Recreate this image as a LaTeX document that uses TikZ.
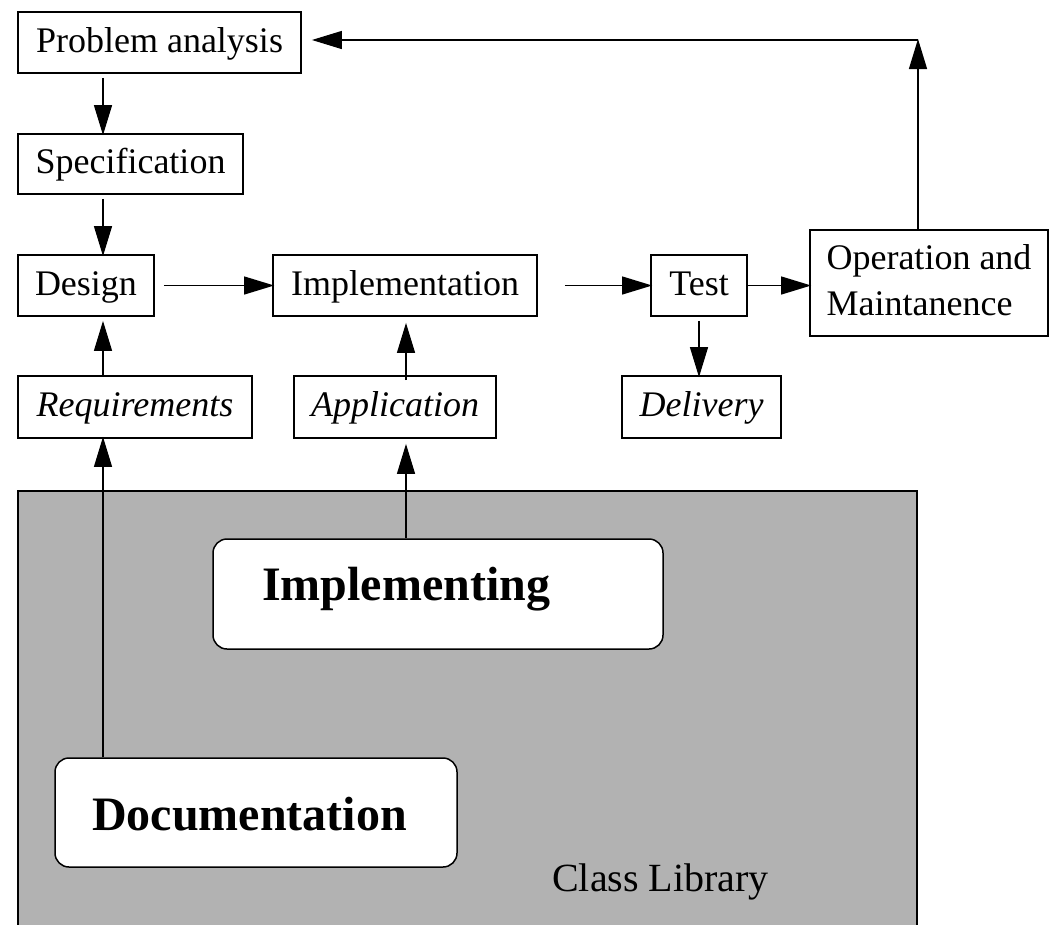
\documentclass[tikz,border=0pt]{standalone}
\usepackage{fontspec}
\setmainfont{Liberation Serif}
\usetikzlibrary{arrows.meta}
\definecolor{libgray}{RGB}{178,178,178}
\begin{document}
\begin{tikzpicture}[x=1pt,y=-1pt,
  stagebox/.style={draw, line width=1.8pt, inner sep=0pt,
    font=\fontsize{36}{46}\selectfont, text height=27pt, text depth=8pt},
  itbox/.style={stagebox, font=\fontsize{36}{46}\selectfont\itshape},
  partbox/.style={draw, fill=white, line width=1.5pt, rounded corners=14pt, inner sep=0pt},
  parttext/.style={font=\fontsize{48}{58}\selectfont\bfseries, inner sep=0pt, anchor=base west},
  arr/.style={line width=1.3pt, -{Triangle[length=30pt,width=18pt]}},
  touch/.style={shorten >=-2pt}]
\useasboundingbox (0,0) rectangle (1052,924);

% class library area (open at the bottom)
\fill[libgray] (18,491) rectangle (917,930);
\draw[line width=1.5pt] (18,930) |- (917,491) -- (917,930);
\node[font=\fontsize{40}{48}\selectfont, inner sep=0pt, anchor=base west] (clslib) at (552,891) {Class Library};

% process stages
\node[stagebox, minimum width=283pt, minimum height=61pt] (pa) at (159.5,42.5) {Problem analysis};
\node[stagebox, minimum width=225pt, minimum height=60pt] (spec) at (130.5,164) {Specification};
\node[stagebox, minimum width=136pt, minimum height=61pt] (design) at (86,285.5) {Design};
\node[stagebox, minimum width=264pt, minimum height=61pt] (impl) at (405,285.5) {Implementation};
\node[stagebox, minimum width=96pt, minimum height=61pt] (test) at (699,285.5) {Test};
\node[draw, line width=1.8pt, inner sep=0pt, align=left, font=\fontsize{36}{46}\selectfont,
  text depth=6pt, minimum width=238pt, minimum height=106pt] (om) at (929,283)
  {Operation and\\Maintanence};

% products
\node[itbox, minimum width=234pt, minimum height=62pt] (req) at (135,407) {Requirements};
\node[itbox, minimum width=202pt, minimum height=62pt] (app) at (395,407) {Application};
\node[itbox, minimum width=159pt, minimum height=62pt] (deliv) at (701.5,407) {Delivery};

% class library parts
\node[partbox, minimum width=450pt, minimum height=110pt] (implng) at (438,594) {};
\node[parttext] (implngtext) at (262,600) {Implementing};
\node[partbox, minimum width=402pt, minimum height=109pt] (doc) at (256,812.5) {};
\node[parttext] (doctext) at (92,830) {Documentation};

% connector columns and the feedback corner
\coordinate (colA) at (103,0);
\coordinate (colB) at (406,0);
\coordinate (corner) at (918,40);

% main flow
\draw[arr, touch, shorten <=4pt] (pa.south -| colA) -- (spec.north -| colA);
\draw[arr, touch, shorten <=4pt] (spec.south -| colA) -- (design.north -| colA);
\draw[arr, touch, shorten <=9pt] (design.east) -- (impl.west);
\draw[arr, touch, shorten <=27pt] (impl.east) -- (test.west);
\draw[arr, touch] (test.east) -- (om.west |- test.east);
\draw[arr, touch, shorten <=4pt] (test.south) -- (deliv.north -| test.south);

% feedback to problem analysis
\draw[arr, shorten >=-1pt] (om.north -| corner) -- (corner);
\draw[arr, shorten >=10pt] (corner) -- (pa.east |- corner);

% products feeding the stages
\draw[arr, shorten >=4pt] (req.north -| colA) -- (design.south -| colA);
\draw[arr, shorten <=-5pt, shorten >=6pt] (app.north -| colB) -- (impl.south -| colB);

% library parts feeding the products
\draw[arr, touch] (doc.north -| colA) -- (req.south -| colA);
\draw[arr, shorten >=5pt] (implng.north -| colB) -- (app.south -| colB);
\end{tikzpicture}
\end{document}
